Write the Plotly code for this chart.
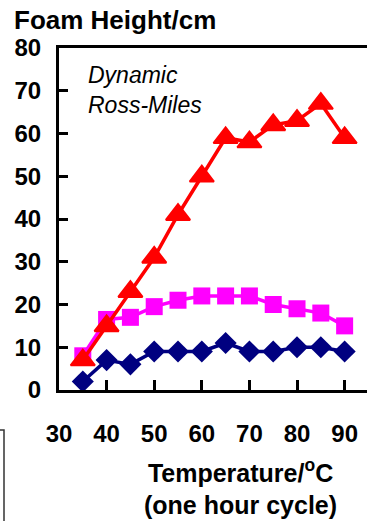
import plotly.graph_objects as go

temps = [35, 40, 45, 50, 55, 60, 65, 70, 75, 80, 85, 90]
red_vals = [7, 15, 23, 31, 41, 50, 59, 58, 62, 63, 67, 59]
pink_vals = [8, 16.5, 17, 19.5, 21, 22, 22, 22, 20, 19, 18, 15]
navy_vals = [2, 7, 6, 9, 9, 9, 11, 9, 9, 10, 10, 9]
x_ticks = [30, 40, 50, 60, 70, 80, 90]
y_ticks = [0, 10, 20, 30, 40, 50, 60, 70, 80]

FONT = "Liberation Sans, Arial, sans-serif"

fig = go.Figure()
fig.add_trace(go.Scatter(x=temps, y=navy_vals, mode="lines+markers",
                         line=dict(color="#000080", width=3.5),
                         marker=dict(symbol="diamond", size=17, color="#000080"),
                         cliponaxis=False, showlegend=False))
fig.add_trace(go.Scatter(x=temps, y=pink_vals, mode="lines+markers",
                         line=dict(color="#FF00FF", width=3.5),
                         marker=dict(symbol="square", size=17, color="#FF00FF"),
                         cliponaxis=False, showlegend=False))
fig.add_trace(go.Scatter(x=temps, y=red_vals, mode="lines+markers",
                         line=dict(color="#FF0000", width=3.5),
                         marker=dict(symbol="triangle-up", size=21, color="#FF0000",
                                     line=dict(color="#FF0000", width=2)),
                         cliponaxis=False, showlegend=False))

fig.update_layout(
    width=367, height=521,
    margin=dict(l=59, r=0, t=48, b=131),
    plot_bgcolor="white", paper_bgcolor="white",
    font=dict(family=FONT, color="black"),
    title=dict(text="<b>Foam Height/cm</b>", x=14/367, xanchor="left",
               y=1 - 20/521, yanchor="middle", xref="container", yref="container",
               font=dict(size=26, family=FONT, color="black")),
    xaxis=dict(range=[30, 94.7], tickvals=x_ticks, ticktext=[f"<b>{v}</b>" for v in x_ticks],
               ticks="inside", ticklen=10, tickwidth=3, tickcolor="black",
               showline=True, linewidth=3, linecolor="black", mirror=True,
               showgrid=False, zeroline=False, ticklabelstandoff=20,
               tickfont=dict(size=24, family=FONT, color="black")),
    yaxis=dict(range=[0, 80], tickvals=y_ticks, ticktext=[f"<b>{v}</b>" for v in y_ticks],
               ticks="inside", ticklen=9, tickwidth=3, tickcolor="black",
               showline=True, linewidth=3, linecolor="black", mirror=False,
               showgrid=False, zeroline=False, ticklabelstandoff=10,
               tickfont=dict(size=24, family=FONT, color="black")),
)

fig.add_annotation(text="<i>Dynamic<br>Ross-Miles</i>", xref="paper", yref="paper",
                   x=(86 - 59) / 308, y=(390 - 60) / 342, xanchor="left", yanchor="top",
                   align="left", showarrow=False,
                   font=dict(size=23, family=FONT, color="black"))

fig.add_annotation(text="<b>Temperature/<sup>o</sup>C<br>(one hour cycle)</b>",
                   xref="paper", yref="paper",
                   x=(240 - 59) / 308, y=(390 - 487) / 342, xanchor="center", yanchor="middle",
                   align="center", showarrow=False,
                   font=dict(size=25, family=FONT, color="black"))

fig.add_shape(type="path", xref="paper", yref="paper",
              path=f"M {(0 - 59) / 308},{(390 - 430) / 342} L {(4 - 59) / 308},{(390 - 430) / 342} L {(4 - 59) / 308},{(390 - 525) / 342}",
              line=dict(color="#333333", width=1.5))

fig.write_html("out.html")
